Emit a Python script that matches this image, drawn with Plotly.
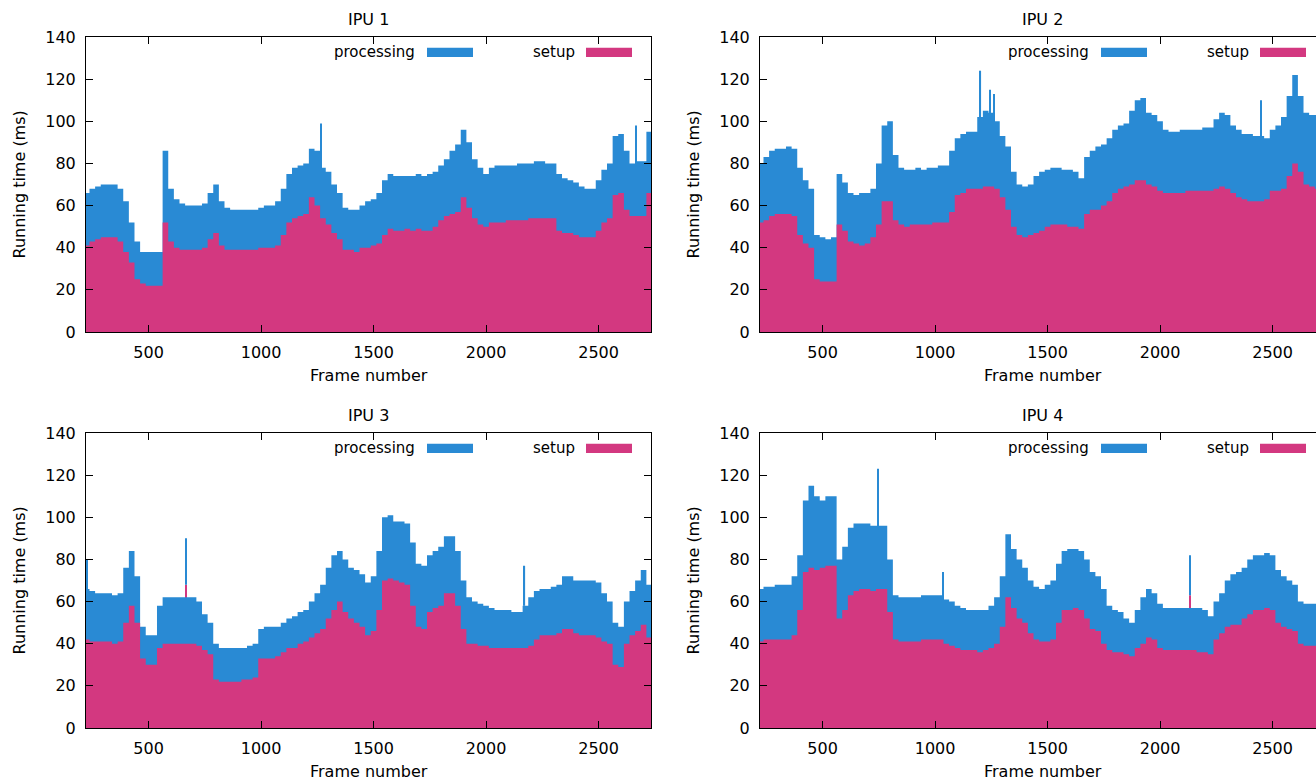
import plotly.graph_objects as go

# ---------------------------------------------------------------- data
FRAMES = list(range(225, 2726, 25))          # frame bins (25 frames each)
TITLES = ["IPU 1", "IPU 2", "IPU 3", "IPU 4"]
X_TICKS = [500, 1000, 1500, 2000, 2500]
Y_TICKS = [0, 20, 40, 60, 80, 100, 120, 140]

IPU1_SETUP = [
    41, 43, 44, 45, 45, 45, 43, 38, 33, 25,
    23, 22, 22, 22, 52, 43, 40, 39, 39, 39,
    39, 40, 44, 47, 41, 39, 39, 39, 39, 39,
    39, 40, 40, 40, 41, 46, 52, 54, 55, 56,
    64, 60, 54, 51, 47, 44, 39, 39, 38, 40,
    40, 41, 42, 46, 49, 48, 48, 49, 48, 49,
    48, 48, 50, 53, 55, 56, 57, 64, 59, 54,
    51, 50, 52, 52, 52, 53, 53, 53, 53, 54,
    54, 54, 54, 54, 48, 47, 47, 46, 45, 45,
    45, 48, 52, 54, 65, 66, 58, 55, 55, 55,
    66]
IPU1_PROCESSING = [
    25, 25, 25, 25, 25, 25, 25, 24, 19, 18,
    15, 16, 16, 16, 34, 25, 23, 22, 21, 21,
    21, 21, 22, 23, 21, 20, 19, 19, 19, 19,
    19, 19, 20, 20, 21, 22, 23, 24, 24, 24,
    23, 26, 24, 25, 23, 22, 20, 19, 20, 20,
    22, 22, 24, 26, 26, 26, 26, 25, 26, 26,
    26, 27, 26, 26, 27, 30, 32, 32, 31, 28,
    27, 25, 26, 27, 27, 26, 26, 27, 27, 26,
    27, 27, 26, 26, 27, 26, 25, 25, 24, 23,
    23, 24, 25, 26, 28, 28, 28, 25, 26, 26,
    29]

IPU2_SETUP = [
    52, 53, 55, 56, 56, 56, 55, 46, 42, 40,
    25, 24, 24, 24, 51, 48, 43, 42, 41, 42,
    45, 51, 62, 62, 53, 51, 50, 51, 51, 51,
    51, 52, 52, 52, 57, 65, 66, 68, 68, 68,
    69, 69, 68, 64, 58, 50, 46, 45, 46, 47,
    48, 50, 51, 51, 51, 50, 50, 49, 56, 58,
    58, 60, 62, 66, 68, 69, 70, 72, 72, 70,
    69, 67, 66, 66, 66, 66, 67, 67, 67, 67,
    67, 68, 69, 68, 66, 64, 63, 62, 62, 62,
    63, 67, 67, 68, 74, 80, 76, 70, 69, 68,
    68]
IPU2_PROCESSING = [
    28, 30, 31, 31, 31, 32, 32, 32, 30, 28,
    21, 21, 20, 21, 24, 23, 23, 23, 25, 24,
    23, 29, 36, 38, 31, 27, 27, 26, 27, 26,
    27, 26, 27, 27, 29, 27, 28, 27, 27, 34,
    36, 35, 32, 29, 30, 26, 24, 24, 24, 27,
    28, 27, 27, 27, 26, 27, 26, 24, 27, 28,
    30, 29, 30, 30, 30, 30, 35, 38, 39, 34,
    34, 33, 30, 29, 29, 30, 29, 29, 29, 30,
    30, 33, 35, 35, 32, 32, 31, 32, 31, 31,
    29, 29, 31, 34, 38, 42, 36, 34, 34, 35,
    35]

IPU3_SETUP = [
    42, 41, 41, 41, 41, 40, 41, 50, 58, 50,
    33, 30, 30, 38, 40, 40, 40, 40, 40, 40,
    39, 37, 35, 23, 22, 22, 22, 22, 23, 23,
    24, 33, 33, 33, 34, 36, 38, 38, 40, 41,
    43, 45, 47, 52, 56, 60, 55, 52, 50, 48,
    44, 46, 56, 70, 71, 70, 69, 68, 58, 48,
    47, 55, 57, 58, 64, 64, 58, 47, 40, 40,
    39, 39, 38, 38, 38, 38, 38, 38, 38, 39,
    42, 44, 44, 44, 45, 47, 47, 45, 44, 44,
    44, 43, 41, 40, 30, 29, 40, 44, 46, 49,
    43]
IPU3_PROCESSING = [
    24, 24, 23, 23, 23, 23, 23, 26, 26, 22,
    15, 14, 14, 20, 22, 22, 22, 22, 22, 22,
    21, 17, 15, 17, 16, 16, 16, 16, 15, 16,
    16, 14, 15, 15, 14, 14, 14, 15, 15, 15,
    17, 19, 21, 24, 26, 24, 25, 24, 25, 25,
    25, 26, 28, 30, 30, 28, 29, 29, 30, 30,
    30, 27, 27, 28, 27, 27, 26, 23, 22, 20,
    20, 19, 19, 18, 18, 18, 17, 17, 20, 23,
    23, 22, 22, 23, 23, 25, 25, 25, 26, 26,
    26, 26, 23, 20, 20, 19, 20, 21, 24, 26,
    25]

IPU4_SETUP = [
    41, 42, 42, 42, 42, 42, 44, 56, 74, 76,
    75, 76, 77, 77, 52, 56, 63, 65, 66, 66,
    65, 66, 66, 55, 42, 41, 41, 41, 41, 42,
    42, 42, 42, 40, 39, 38, 37, 37, 37, 36,
    37, 38, 40, 48, 62, 57, 52, 50, 45, 42,
    41, 41, 42, 50, 56, 56, 57, 56, 52, 47,
    46, 40, 37, 36, 36, 35, 34, 38, 40, 43,
    42, 38, 37, 37, 37, 37, 37, 37, 36, 36,
    35, 42, 45, 48, 49, 49, 52, 54, 56, 56,
    57, 56, 50, 48, 47, 46, 40, 39, 39, 39,
    39]
IPU4_PROCESSING = [
    25, 25, 25, 26, 26, 26, 28, 26, 34, 39,
    35, 32, 33, 33, 28, 30, 32, 32, 31, 31,
    31, 30, 30, 25, 21, 21, 21, 21, 21, 21,
    21, 21, 21, 21, 21, 20, 20, 19, 19, 20,
    19, 20, 22, 24, 30, 28, 28, 26, 25, 25,
    25, 27, 28, 28, 28, 29, 28, 28, 28, 27,
    26, 26, 21, 20, 19, 17, 16, 18, 22, 23,
    22, 21, 20, 20, 20, 20, 20, 20, 21, 20,
    18, 18, 19, 22, 24, 25, 24, 26, 26, 26,
    26, 26, 25, 24, 23, 22, 20, 20, 20, 20,
    20]

# single-frame outliers
IPU1_SPIKE_FRAMES = [1266, 2668]
IPU1_SPIKE_SETUP = [72, 70]
IPU1_SPIKE_PROCESSING = [27, 28]

IPU2_SPIKE_FRAMES = [1202, 1244, 1263, 2448]
IPU2_SPIKE_SETUP = [93, 78, 77, 76]
IPU2_SPIKE_PROCESSING = [31, 37, 36, 34]

IPU3_SPIKE_FRAMES = [226, 667, 2171]
IPU3_SPIKE_SETUP = [49, 68, 58]
IPU3_SPIKE_PROCESSING = [31, 22, 19]

IPU4_SPIKE_FRAMES = [748, 1037, 2134]
IPU4_SPIKE_SETUP = [90, 52, 63]
IPU4_SPIKE_PROCESSING = [33, 22, 19]

# ---------------------------------------------------------------- style
BLUE = "#298ad4"
MAGENTA = "#d33880"
FONT = "DejaVu Sans"
W, H = 1316, 780
PANEL_W, PANEL_H = 565, 295
COL_LEFT = [86, 760]
ROW_TOP = [37, 433]
X_MIN, X_MAX = 222, 2733
BIN = 25
SPIKE_W = 5


def px(x):
    return x / W


def py(y):
    return 1 - y / H


def boxes(heights, color, xa, ya):
    """Histogram-style boxes drawn as one step-shaped filled outline."""
    edges = [f - BIN / 2 for f in FRAMES] + [FRAMES[-1] + BIN / 2]
    ys = list(heights) + [heights[-1]]
    return go.Scatter(x=edges, y=ys, mode="lines", line=dict(width=0, shape="hv", color=color),
                      fill="tozeroy", fillcolor=color, xaxis=xa, yaxis=ya, hoverinfo="skip")


def spikes(x, y, base, color, xa, ya):
    return go.Bar(x=x, y=y, base=base, width=SPIKE_W,
                  marker=dict(color=color, line=dict(width=0)),
                  xaxis=xa, yaxis=ya, hoverinfo="skip")


panels = [
    (IPU1_SETUP, IPU1_PROCESSING, IPU1_SPIKE_FRAMES, IPU1_SPIKE_SETUP, IPU1_SPIKE_PROCESSING),
    (IPU2_SETUP, IPU2_PROCESSING, IPU2_SPIKE_FRAMES, IPU2_SPIKE_SETUP, IPU2_SPIKE_PROCESSING),
    (IPU3_SETUP, IPU3_PROCESSING, IPU3_SPIKE_FRAMES, IPU3_SPIKE_SETUP, IPU3_SPIKE_PROCESSING),
    (IPU4_SETUP, IPU4_PROCESSING, IPU4_SPIKE_FRAMES, IPU4_SPIKE_SETUP, IPU4_SPIKE_PROCESSING),
]

fig = go.Figure()
layout = dict(
    width=W, height=H, autosize=False,
    margin=dict(l=0, r=0, t=0, b=0, pad=0, autoexpand=False),
    paper_bgcolor="white", plot_bgcolor="white",
    barmode="overlay", showlegend=False,
    font=dict(family=FONT, size=16, color="black"),
    annotations=[], shapes=[],
)

for k, (setup, proc, sf, ss, sp) in enumerate(panels):
    n = k + 1
    col, row = k % 2, k // 2
    left, top = COL_LEFT[col], ROW_TOP[row]
    right = min(left + PANEL_W, W)
    bottom = top + PANEL_H
    xa, ya = ("x", "y") if n == 1 else (f"x{n}", f"y{n}")

    # processing is stacked on top of setup
    total = [s + p for s, p in zip(setup, proc)]
    fig.add_trace(boxes(total, BLUE, xa, ya))
    fig.add_trace(boxes(setup, MAGENTA, xa, ya))
    fig.add_trace(spikes(sf, ss, 0, MAGENTA, xa, ya))
    fig.add_trace(spikes(sf, sp, ss, BLUE, xa, ya))

    # visible frame range keeps the same frames-per-pixel in every panel
    x_hi = X_MIN + (right - left) / PANEL_W * (X_MAX - X_MIN)
    xkey = "xaxis" if n == 1 else f"xaxis{n}"
    ykey = "yaxis" if n == 1 else f"yaxis{n}"
    layout[xkey] = dict(
        domain=[px(left), px(right)], anchor=ya, range=[X_MIN, x_hi],
        tickvals=X_TICKS, ticks="inside", ticklen=7, tickwidth=1, tickcolor="black",
        showline=True, linecolor="black", linewidth=1, mirror="ticks",
        showgrid=False, zeroline=False, ticklabelstandoff=6, automargin=False,
        tickfont=dict(family=FONT, size=16, color="black"),
    )
    layout[ykey] = dict(
        domain=[py(bottom), py(top)], anchor=xa, range=[0, 140],
        tickvals=Y_TICKS, ticks="inside", ticklen=7, tickwidth=1, tickcolor="black",
        showline=True, linecolor="black", linewidth=1,
        mirror="ticks" if col == 0 else False,
        showgrid=False, zeroline=False, ticklabelstandoff=6, automargin=False,
        tickfont=dict(family=FONT, size=16, color="black"),
    )

    cx = left + PANEL_W / 2
    layout["annotations"] += [
        dict(text=TITLES[k], x=px(cx), y=py(top - 18), xref="paper", yref="paper",
             showarrow=False, xanchor="center", yanchor="middle", font=dict(size=16)),
        dict(text="Frame number", x=px(cx), y=py(bottom + 43), xref="paper", yref="paper",
             showarrow=False, xanchor="center", yanchor="middle", font=dict(size=16)),
        dict(text="Running time (ms)", x=px(left - 67), y=py(top + PANEL_H / 2), xref="paper", yref="paper",
             showarrow=False, xanchor="center", yanchor="middle", textangle=-90, font=dict(size=16)),
        dict(text="processing", x=px(left + 331), y=py(top + 15.3), xref="paper", yref="paper",
             showarrow=False, xanchor="right", yanchor="middle", font=dict(size=15)),
        dict(text="setup", x=px(left + 491), y=py(top + 15.3), xref="paper", yref="paper",
             showarrow=False, xanchor="right", yanchor="middle", font=dict(size=15)),
    ]
    layout["shapes"] += [
        dict(type="rect", xref="paper", yref="paper", x0=px(left + 341), x1=px(left + 387),
             y0=py(top + 20), y1=py(top + 10.7), fillcolor=BLUE, line=dict(width=0)),
        dict(type="rect", xref="paper", yref="paper", x0=px(left + 500), x1=px(left + 546),
             y0=py(top + 20), y1=py(top + 10.7), fillcolor=MAGENTA, line=dict(width=0)),
    ]

fig.update_layout(**layout)
fig.write_html(
    "out.html",
    config={"displayModeBar": False},
    post_script="document.body.style.margin='0';document.body.style.overflow='hidden';",
)
